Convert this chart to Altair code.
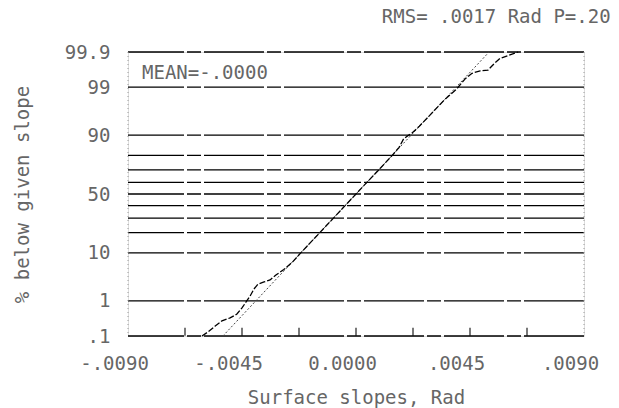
import statistics
import altair as alt
import pandas as pd

# ---- values -------------------------------------------------------------
rms = 0.0017
mean = 0.0

# cumulative probability grid (percent below)
grid_pct = [0.1, 1, 10, 20, 30, 40, 50, 60, 70, 80, 90, 99, 99.9]
ylabel_pct = [0.1, 1, 10, 50, 90, 99, 99.9]
ylabel_txt = [".1", "1", "10", "50", "90", "99", "99.9"]

# slope axis
xlabel_val = [-0.009, -0.0045, 0.0, 0.0045, 0.009]
xlabel_txt = ["-.0090", "-.0045", "0.0000", ".0045", ".0090"]
xminor_val = [-0.00675, -0.0045, -0.00225, 0.0, 0.00225, 0.0045, 0.00675]

# measured slope distribution
slope_vals = [-0.00608, -0.00584, -0.00557, -0.00529, -0.00497, -0.00470,
              -0.00450, -0.00434, -0.00418, -0.00403, -0.00387, -0.00363,
              -0.00339, -0.00316, -0.00285, -0.00250, -0.00218, -0.00180,
              -0.00143, -0.00112, -0.00089, -0.00043, 0.00000, 0.00043,
              0.00090, 0.00143, 0.00170, 0.00188, 0.00205, 0.00218,
              0.00250, 0.00283, 0.00320, 0.00350, 0.00398, 0.00430,
              0.00458, 0.00490, 0.00521, 0.00545, 0.00568, 0.00600, 0.00640]
slope_pct = [0.1, 0.135, 0.2, 0.29, 0.35, 0.45,
             0.66, 0.94, 1.32, 1.93, 2.5, 2.78,
             3.07, 3.9, 5.0, 7.0, 10, 14.5,
             20, 25.5, 30, 40, 50, 60,
             70, 80, 84.5, 88.5, 89.8, 90.5,
             93, 95.2, 97, 98, 98.9, 99.38,
             99.57, 99.63, 99.65, 99.77, 99.84, 99.87, 99.9]

# ---- probability-scale helpers ------------------------------------------
nd = statistics.NormalDist()


def probit(p):
    return nd.inv_cdf(p / 100.0)


zmin, zmax = probit(0.1), probit(99.9)


def ternary(vals, txts):
    parts = []
    for i in range(len(vals) - 1):
        mid = (vals[i] + vals[i + 1]) / 2
        parts.append(f"datum.value < {mid} ? '{txts[i]}' : ")
    return "".join(parts) + f"'{txts[-1]}'"


yz = [probit(p) for p in ylabel_pct]

FONT = "DejaVu Sans Mono"
TXT = "#666666"

xscale = alt.Scale(domain=[-0.009, 0.009], nice=False, zero=False)
yscale = alt.Scale(domain=[zmin, zmax], nice=False, zero=False)

xaxis = alt.Axis(values=xlabel_val, labelExpr=ternary(xlabel_val, xlabel_txt),
                 title="Surface slopes, Rad", domain=False, ticks=False, grid=False,
                 labelFont=FONT, labelFontSize=19, labelColor=TXT, labelPadding=18,
                 labelOffset=-14, labelFlush=False, labelOverlap=False,
                 titleFont=FONT, titleFontSize=19, titleFontWeight="normal",
                 titleColor=TXT, titlePadding=15)
yaxis = alt.Axis(values=yz, labelExpr=ternary(yz, ylabel_txt),
                 title="% below given slope", domain=False, ticks=False, grid=False,
                 labelFont=FONT, labelFontSize=19, labelColor=TXT, labelPadding=18,
                 labelFlush=False, labelOverlap=False,
                 titleFont=FONT, titleFontSize=19, titleFontWeight="normal",
                 titleColor=TXT, titlePadding=32)


def X(field, **kw):
    return alt.X(field, type="quantitative", scale=xscale, axis=xaxis, **kw)


def Y(field, **kw):
    return alt.Y(field, type="quantitative", scale=yscale, axis=yaxis, **kw)


# ---- tables --------------------------------------------------------------
grid_df = pd.DataFrame({"z": [probit(p) for p in grid_pct]})
edge_df = pd.DataFrame({"x": [-0.009, 0.009]})
tick_df = pd.DataFrame({"tx": xminor_val, "tz": [zmin + 0.09] * len(xminor_val)})
fit_df = pd.DataFrame({"z": [zmin, zmax]})
fit_df["x"] = mean + rms * fit_df["z"]
meas_df = pd.DataFrame({"x": slope_vals, "z": [probit(p) for p in slope_pct]})

# ---- layers ---------------------------------------------------------------
grid = alt.Chart(grid_df).mark_rule(
    color="black", strokeWidth=1.3, strokeDash=[60, 3, 14, 3]
).encode(y=Y("z"))

edges = alt.Chart(edge_df).mark_rule(
    color="#999999", strokeWidth=1, strokeDash=[1, 3]
).encode(x=X("x"))

# small upward ticks along the bottom line
minor = alt.Chart(tick_df).mark_tick(
    color="#000000", orient="vertical", size=8, thickness=1.5
).encode(x=X("tx"), y=Y("tz"))

fit = alt.Chart(fit_df).mark_line(
    color="#444444", strokeWidth=1, strokeDash=[2, 2]
).encode(x=X("x"), y=Y("z"), order="z:Q")

meas = alt.Chart(meas_df).mark_line(
    color="black", strokeWidth=1.3, strokeDash=[6, 2]
).encode(x=X("x"), y=Y("z"), order="z:Q")

mean_txt = alt.Chart(pd.DataFrame({"t": ["MEAN=-.0000"]})).mark_text(
    font=FONT, fontSize=19, color=TXT, align="left", baseline="middle"
).encode(x=alt.value(14), y=alt.value(21), text="t:N")

chart = alt.layer(grid, edges, fit, meas, minor, mean_txt).properties(
    width=456,
    height=284,
    autosize="none",
    padding={"left": 128, "top": 52, "right": 35, "bottom": 72},
    title=alt.Title("RMS= .0017 Rad P=.20", anchor="end", dx=12, offset=16,
                    font=FONT, fontSize=19, fontWeight="normal", color=TXT),
).configure_view(stroke=None).configure(background="white")

chart.save("out.html", embed_options={"renderer": "svg", "actions": False})
